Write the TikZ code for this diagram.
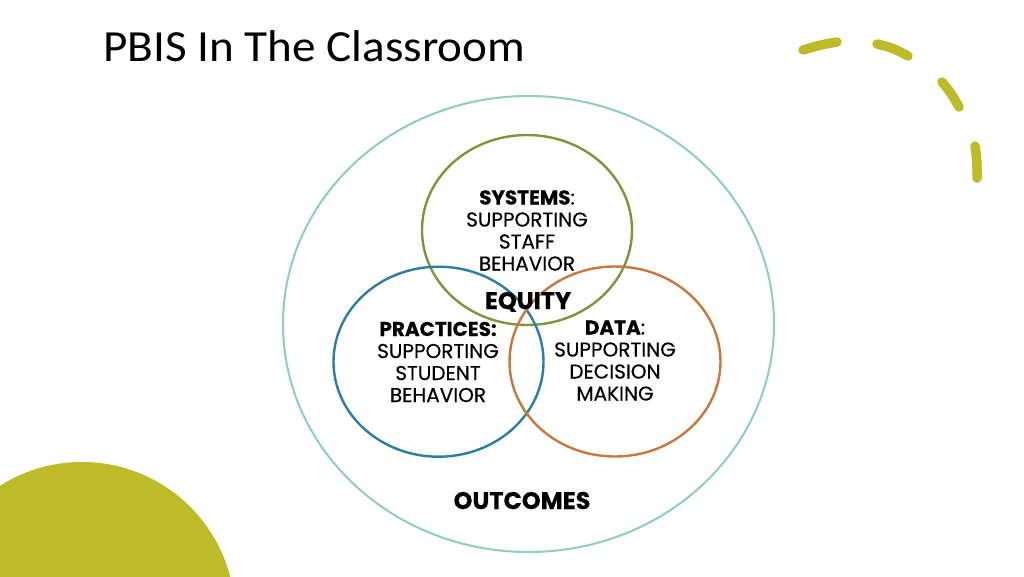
\documentclass[tikz,border=0pt]{standalone}
\usepackage{fontspec}
\setmainfont{Poppins}[FakeBold=0.4]
\newfontfamily\titlefont{Carlito}
\definecolor{olivey}{HTML}{BDBB27}
\definecolor{outerc}{HTML}{8FCDBE}
\definecolor{greenc}{HTML}{7A973C}
\definecolor{bluec}{HTML}{2C7F9C}
\definecolor{orangec}{HTML}{C77840}
\tikzset{
  ring/.style={line width=2.4pt},
  lbl/.style={align=center, font=\fontsize{20}{22}\selectfont, inner sep=0pt, text=black},
  big/.style={font=\fontsize{24}{26}\selectfont\bfseries, inner sep=0pt, text=black},
  dsh/.style={draw=olivey, line width=9.5pt, line cap=round}
}
\begin{document}
\begin{tikzpicture}[x=1pt,y=-1pt]
\useasboundingbox (0,0) rectangle (1024,576);
\fill[white] (0,0) rectangle (1024,576);
% bottom-left disc
\begin{scope}
\clip (0,0) rectangle (1024,576);
\fill[olivey] (82,615) circle[radius=153];
\end{scope}
% dashed arc
\draw[dsh] (803,50) .. controls (820,45) .. (837,42);
\draw[dsh] (877,44) .. controls (893,48) .. (908,56);
\draw[dsh] (942,82) .. controls (951,93) .. (959,107);
\draw[dsh] (975,146) .. controls (977,160) .. (977,178);
% title
\node[anchor=base west, inner sep=0pt, xscale=1.06, font=\titlefont\fontsize{44.5}{46}\selectfont] (title) at (103,61) {PBIS In The Classroom};
% rings
\draw[outerc, line width=2pt] (528.5,324) ellipse[x radius=245.5, y radius=228];
\draw[greenc, ring] (527,230) ellipse[x radius=105, y radius=95];
\draw[bluec, ring] (438.5,361.7) ellipse[x radius=105, y radius=95];
\draw[orangec, ring] (615,361.5) ellipse[x radius=105.5, y radius=95];
% texts (base anchor = baseline of last line)
\node[lbl, anchor=base] (sys) at (527,270.5) {\textbf{SYSTEMS}:\\SUPPORTING\\STAFF\\BEHAVIOR};
\node[big, anchor=base] (eq) at (528,309) {EQUITY};
\node[lbl, anchor=base] (prac) at (438,402) {\textbf{PRACTICES:}\\SUPPORTING\\STUDENT\\BEHAVIOR};
\node[lbl, anchor=base] (data) at (615,400.5) {\textbf{DATA}:\\SUPPORTING\\DECISION\\MAKING};
\node[big, anchor=base] (out) at (522,509) {OUTCOMES};
\end{tikzpicture}
\end{document}
